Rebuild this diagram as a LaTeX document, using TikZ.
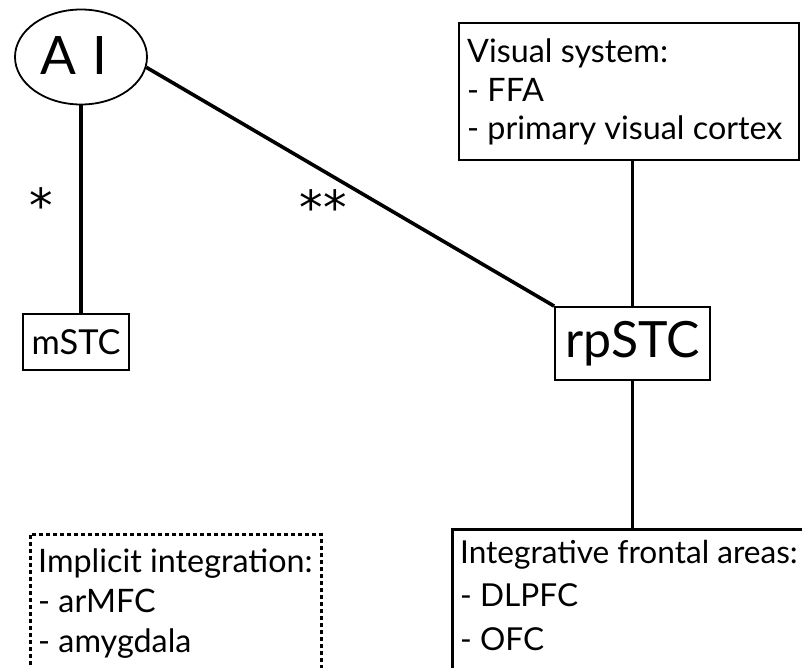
\documentclass[tikz,border=0pt]{standalone}
\usepackage{fontspec}
\setmainfont{Lato}
\newfontfamily\starfont{DejaVu Sans}
\usetikzlibrary{shapes.geometric}
\begin{document}
\begin{tikzpicture}[x=1pt,y=-1pt,
  box/.style={draw, rectangle, line width=1.8pt, inner sep=0pt},
  conn/.style={line width=3.6pt},
  txt/.style={font=\fontsize{32.3}{38.5}\selectfont, align=left, inner sep=0pt, anchor=base west},
  star/.style={font=\starfont\fontsize{47}{47}\selectfont, inner sep=0pt}]
\useasboundingbox (0,0) rectangle (802,668);
\clip (0,0) rectangle (802,668);
% A I
\node[draw, ellipse, line width=1.8pt, minimum width=132, minimum height=95, inner sep=0pt] (A1) at (81,57) {};
\node[font=\fontsize{53}{53}\selectfont, inner sep=0pt, anchor=base] (A1t) at (74,75) {A\hspace{17pt}I};
% mSTC
\node[box, minimum width=106, minimum height=56, font=\fontsize{34.4}{34.4}\selectfont] (mS) at (76,342) {mSTC};
% rpSTC
\node[box, minimum width=155, minimum height=73, font=\fontsize{50}{50}\selectfont] (rp) at (632.5,343.5) {rpSTC};
% Visual system
\node[box, minimum width=340, minimum height=137, anchor=north west] (vis) at (458,22) {};
\node[txt] (vist) at (467,140) {Visual system:\\- FFA\\- primary visual cortex};
% Integrative frontal areas
\node[box, line width=2.8pt, minimum width=380, minimum height=170, anchor=north west] (intf) at (451,528) {};
\node[txt, font=\fontsize{31.6}{43.5}\selectfont] (intft) at (460,650) {Integrative frontal areas:\\- DLPFC\\- OFC};
% Implicit integration
\node[draw, rectangle, line width=2.8pt, dash pattern=on 4pt off 3pt, minimum width=291, minimum height=145, inner sep=0pt, anchor=north west] (impl) at (29,533) {};
\node[txt, font=\fontsize{32.3}{40}\selectfont] (implt) at (38,652) {Implicit integration:\\- arMFC\\- amygdala};
% stars
\node[star] (s1) at (41,205) {*};
\node[star] (s2) at (323,207) {**};
% connectors
\draw[conn] (A1.south) -- (A1.south |- mS.north);
\draw[conn] (A1.-9) -- (rp.north west);
\draw[conn] (rp.north) -- (rp.north |- vis.south);
\draw[conn] (rp.south) -- (rp.south |- intf.north);
\end{tikzpicture}
\end{document}
